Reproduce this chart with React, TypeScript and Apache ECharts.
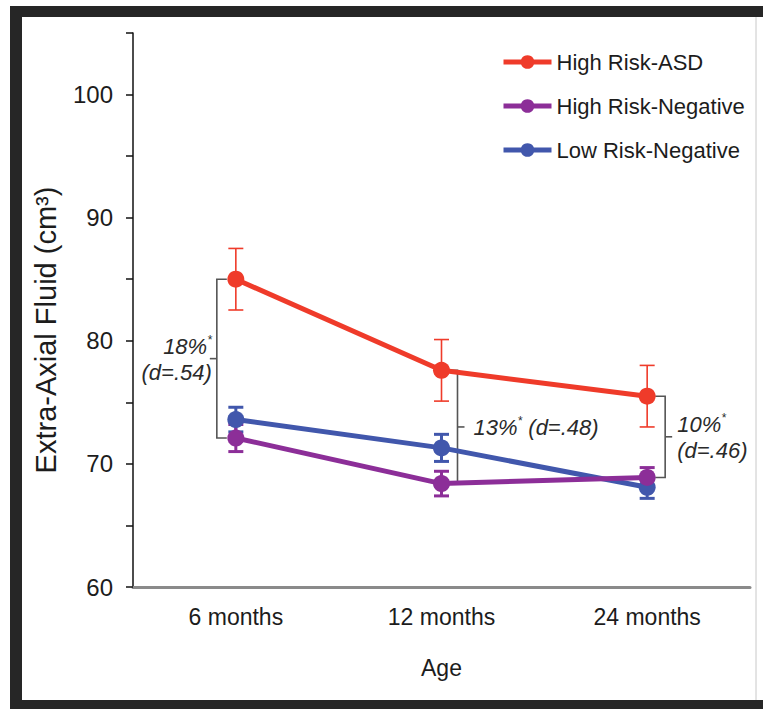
import React, { useEffect, useRef } from "react";
import * as echarts from "echarts";

const categories = ["6 months", "12 months", "24 months"];
const seriesNames = ["High Risk-ASD", "High Risk-Negative", "Low Risk-Negative"];
const asdMean = [85.0, 77.6, 75.5];
const asdErr = [2.5, 2.5, 2.5];
const hrNegMean = [72.1, 68.4, 68.9];
const hrNegErr = [1.1, 1.0, 0.8];
const lrNegMean = [73.6, 71.3, 68.1];
const lrNegErr = [1.0, 1.1, 0.9];
const bracketPct = ["18%", "13%", "10%"];
const bracketD = ["(d=.54)", "(d=.48)", "(d=.46)"];

const COLORS = ["#EF3B2A", "#8C2E98", "#4157AC"];
const FONT = "'Liberation Sans', Arial, sans-serif";
const TXT = "#1c1c1c";

function errorSeries(name: string, mean: number[], err: number[], color: string, width: number, z: number) {
  return {
    type: "custom",
    name: name + "-err",
    z,
    silent: true,
    data: mean.map((m, i) => [i, m - err[i], m + err[i]]),
    renderItem: (params: any, api: any) => {
      const x = api.value(0);
      const lo = api.coord([x, api.value(1)]);
      const hi = api.coord([x, api.value(2)]);
      const cw = 7.5;
      const st = { stroke: color, lineWidth: width };
      return {
        type: "group",
        children: [
          { type: "line", shape: { x1: lo[0], y1: lo[1], x2: hi[0], y2: hi[1] }, style: st },
          { type: "line", shape: { x1: lo[0] - cw, y1: lo[1], x2: lo[0] + cw, y2: lo[1] }, style: st },
          { type: "line", shape: { x1: hi[0] - cw, y1: hi[1], x2: hi[0] + cw, y2: hi[1] }, style: st },
        ],
      };
    },
  };
}

function lineSeries(name: string, mean: number[], color: string, z: number) {
  return {
    type: "line",
    name,
    z,
    data: mean,
    symbol: "circle",
    symbolSize: 17,
    lineStyle: { color, width: 5 },
    itemStyle: { color },
  };
}

export default function App() {
  const ref = useRef<HTMLDivElement>(null);
  useEffect(() => {
    if (!ref.current) return;
    const chart = echarts.init(ref.current, null, { renderer: "svg" });
    const bracketData = categories.map((_, i) => [i, asdMean[i], hrNegMean[i]]);
    chart.setOption({
      animation: false,
      backgroundColor: "#ffffff",
      grid: { left: 133, right: 13, top: 33, bottom: 122, containLabel: false },
      legend: {
        data: seriesNames,
        orient: "vertical",
        left: 496,
        top: 46,
        itemWidth: 48,
        itemHeight: 17,
        itemGap: 22,
        lineStyle: { width: 5 },
        textStyle: { fontFamily: FONT, fontSize: 22, color: TXT },
      },
      xAxis: {
        type: "category",
        data: categories,
        boundaryGap: true,
        name: "Age",
        nameLocation: "middle",
        nameGap: 69,
        nameTextStyle: { fontFamily: FONT, fontSize: 23, color: TXT },
        axisLine: { lineStyle: { color: "#8a8a8a", width: 3 } },
        axisTick: { show: false },
        axisLabel: { fontFamily: FONT, fontSize: 23, color: TXT, margin: 18 },
      },
      yAxis: {
        type: "value",
        min: 60,
        max: 105,
        interval: 5,
        name: "Extra-Axial Fluid (cm³)",
        nameLocation: "middle",
        nameGap: 73,
        nameTextStyle: { fontFamily: FONT, fontSize: 29, color: TXT, padding: [0, 40, 0, 0] },
        axisLine: { show: true, lineStyle: { color: "#111", width: 1.5 } },
        axisTick: { show: true, length: 7, lineStyle: { color: "#111", width: 1.5 } },
        axisLabel: {
          fontFamily: FONT,
          fontSize: 24,
          color: TXT,
          margin: 20,
          formatter: (v: number) => (v % 10 === 0 ? String(v) : ""),
        },
        splitLine: { show: false },
      },
      graphic: [
        { type: "rect", shape: { x: 10, y: 6, width: 753, height: 11 }, style: { fill: "#262626" }, z: 100 },
        { type: "rect", shape: { x: 10, y: 6, width: 12, height: 703 }, style: { fill: "#262626" }, z: 100 },
        { type: "rect", shape: { x: 10, y: 700, width: 753, height: 9 }, style: { fill: "#262626" }, z: 100 },
        { type: "line", shape: { x1: 756, y1: 17, x2: 756, y2: 700 }, style: { stroke: "#c8c8c8", lineWidth: 1 }, z: 100 },
      ],
      series: [
        errorSeries(seriesNames[0], asdMean, asdErr, COLORS[0], 1.6, 3),
        errorSeries(seriesNames[2], lrNegMean, lrNegErr, COLORS[2], 3, 3),
        errorSeries(seriesNames[1], hrNegMean, hrNegErr, COLORS[1], 3, 4),
        lineSeries(seriesNames[0], asdMean, COLORS[0], 5),
        lineSeries(seriesNames[2], lrNegMean, COLORS[2], 5),
        lineSeries(seriesNames[1], hrNegMean, COLORS[1], 6),
        {
          type: "custom",
          name: "brackets",
          silent: true,
          z: 2,
          data: bracketData,
          renderItem: (params: any, api: any) => {
            const i = params.dataIndex;
            const x = api.value(0);
            const top = api.coord([x, api.value(1)]);
            const bot = api.coord([x, api.value(2)]);
            const side = i === 0 ? -1 : 1;
            const dx = i === 0 ? -19 : i === 1 ? 16 : 18;
            const bx = top[0] + dx;
            const arm = 10 * side;
            const mid = (top[1] + bot[1]) / 2;
            const st = { stroke: "#555", lineWidth: 1.6, fill: null };
            const rich = {
              p: { fontFamily: FONT, fontSize: 22, fontStyle: "italic", fill: "#2a2a2a", lineHeight: 26 },
              s: { fontFamily: FONT, fontSize: 12, fontStyle: "italic", fill: "#2a2a2a", verticalAlign: "top", lineHeight: 26 },
            };
            let text: string;
            if (i === 1) text = `{p|${bracketPct[i]}}{s|*}{p| ${bracketD[i]}}`;
            else text = `{p|${bracketPct[i]}}{s|*}\n{p|${bracketD[i]}}`;
            const tx = i === 0 ? bx - 5 : i === 1 ? bx + 16 : bx + 12;
            return {
              type: "group",
              children: [
                {
                  type: "polyline",
                  shape: { points: [[bx - arm, top[1]], [bx, top[1]], [bx, bot[1]], [bx - arm, bot[1]]] },
                  style: st,
                },
                { type: "line", shape: { x1: bx, y1: mid, x2: bx + 7 * side, y2: mid }, style: st },
                {
                  type: "text",
                  x: tx,
                  y: mid + 1,
                  style: {
                    text,
                    rich,
                    align: side < 0 ? "right" : "left",
                    verticalAlign: "middle",
                    fill: "#2a2a2a",
                  },
                },
              ],
            };
          },
        },
      ],
    });
    return () => chart.dispose();
  }, []);
  return <div ref={ref} style={{ position: "fixed", left: 0, top: 0, width: 763, height: 709 }} />;
}
